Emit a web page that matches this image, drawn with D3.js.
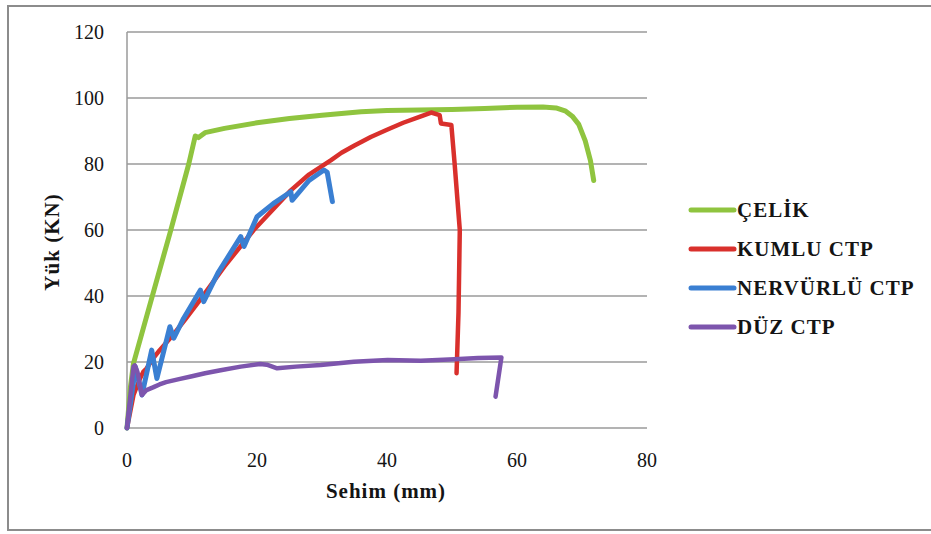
<!DOCTYPE html>
<html>
<head>
<meta charset="utf-8">
<script src="https://cdn.jsdelivr.net/npm/d3@7"></script>
<style>
  html, body { margin: 0; padding: 0; background: #fff; }
  svg { display: block; }
  text { font-family: "Liberation Serif", "Times New Roman", serif; fill: #141414; }
</style>
</head>
<body>
<svg id="chart" width="931" height="534"></svg>
<script>
// ---- data ----
const seriesNames = ["ÇELİK", "KUMLU CTP", "NERVÜRLÜ CTP", "DÜZ CTP"];
const seriesColors = ["#8fc43f", "#d9302c", "#3a7fd2", "#7d55ad"];

const celikX = [0, 0.5, 1, 3.3, 6.6, 9.5, 10.5, 11, 12, 15, 20, 25, 30, 36, 40, 45, 50, 55, 60, 64, 66, 67.5, 68.5, 69.5, 70.5, 71.3, 71.8];
const celikY = [0, 12, 19.6, 35.8, 59, 80, 88.5, 88, 89.5, 90.8, 92.5, 93.8, 94.8, 95.8, 96.2, 96.4, 96.5, 96.8, 97.2, 97.3, 97, 96, 94.5, 92, 87, 81, 75];

const kumluX = [0, 1, 2, 2.5, 3, 4, 5, 7, 9, 11.3, 15, 19.5, 25.2, 28, 31.4, 33, 35, 37.5, 40, 42.5, 45, 46.8, 48.1, 48.3, 49.9, 50.4, 51.2, 51.0, 50.7];
const kumluY = [0, 10, 15, 17, 18, 21, 23.5, 28, 33, 39, 49, 60, 72, 76.8, 81.2, 83.4, 85.6, 88.2, 90.4, 92.5, 94.3, 95.6, 94.8, 92.3, 91.8, 80.2, 60, 35, 16.6];

const nervX = [0, 1, 1.3, 2.3, 3.8, 4.6, 6.6, 7.2, 8.7, 11.3, 11.8, 14, 17.5, 18, 20, 22.5, 25.2, 25.4, 28, 30.3, 30.8, 31.6];
const nervY = [0, 14, 18.5, 10, 23.6, 15, 30.7, 27.2, 33.2, 41.8, 38.3, 47, 58, 55, 64, 68, 71.6, 69, 75, 78.2, 77.5, 68.6];

const duzX = [0, 0.2, 0.5, 1, 1.2, 1.6, 2.3, 3, 4, 5, 6, 8, 10, 12, 14.4, 17.5, 20.5, 21.5, 23.1, 26, 29.8, 34.9, 40.1, 45.2, 50.4, 54, 57.6, 56.7];
const duzY = [0, 4, 9.5, 18.6, 19, 17, 10, 11.5, 12.3, 13.2, 13.9, 14.8, 15.7, 16.6, 17.5, 18.6, 19.4, 19.2, 18.1, 18.6, 19.1, 20.1, 20.6, 20.4, 20.8, 21.2, 21.4, 9.5];

const xTicks = [0, 20, 40, 60, 80];
const yTicks = [0, 20, 40, 60, 80, 100, 120];
const xTitle = "Sehim (mm)";
const yTitle = "Yük (KN)";

// ---- drawing ----
const svg = d3.select("#chart");
const x = d3.scaleLinear().domain([0, 80]).range([127, 647]);
const y = d3.scaleLinear().domain([0, 120]).range([428, 32]);

// outer border
svg.append("rect").attr("x", 8).attr("y", 6).attr("width", 940).attr("height", 524)
  .attr("fill", "none").attr("stroke", "#8c8c8c").attr("stroke-width", 2);

// gridlines
svg.append("g").selectAll("line").data(yTicks).join("line")
  .attr("x1", x(0)).attr("x2", x(80))
  .attr("y1", d => y(d)).attr("y2", d => y(d))
  .attr("stroke", "#9a9a9a").attr("stroke-width", 1.5);

// y axis line
svg.append("line").attr("x1", x(0)).attr("x2", x(0)).attr("y1", y(0)).attr("y2", y(120))
  .attr("stroke", "#9a9a9a").attr("stroke-width", 1.5);

// tick labels
svg.append("g").selectAll("text").data(yTicks).join("text")
  .attr("x", 104).attr("y", d => y(d) + 7)
  .attr("text-anchor", "end").attr("font-size", 20).text(d => d);
svg.append("g").selectAll("text").data(xTicks).join("text")
  .attr("x", d => x(d)).attr("y", 467)
  .attr("text-anchor", "middle").attr("font-size", 20).text(d => d);

// axis titles
svg.append("text").attr("x", 386).attr("y", 498).attr("text-anchor", "middle")
  .attr("font-size", 21).attr("letter-spacing", 1).attr("font-weight", "bold").text(xTitle);
svg.append("text").attr("transform", "translate(59,242) rotate(-90)")
  .attr("text-anchor", "middle").attr("font-size", 21).attr("letter-spacing", 1).attr("font-weight", "bold").text(yTitle);

// series
const seriesData = [
  d3.zip(celikX, celikY),
  d3.zip(kumluX, kumluY),
  d3.zip(nervX, nervY),
  d3.zip(duzX, duzY)
];
const widths = [5, 4.5, 5, 4.5];
const line = d3.line().x(d => x(d[0])).y(d => y(d[1]));
svg.append("g").selectAll("path").data(seriesData).join("path")
  .attr("d", line).attr("fill", "none")
  .attr("stroke", (d, i) => seriesColors[i])
  .attr("stroke-width", (d, i) => widths[i])
  .attr("stroke-linejoin", "round").attr("stroke-linecap", "round");

// legend
const legendY = [210, 249, 288, 327];
const lg = svg.append("g").selectAll("g").data(seriesNames).join("g")
  .attr("transform", (d, i) => `translate(0,${legendY[i]})`);
lg.append("line").attr("x1", 691).attr("x2", 734).attr("y1", 0).attr("y2", 0)
  .attr("stroke", (d, i) => seriesColors[i]).attr("stroke-width", 5).attr("stroke-linecap", "round");
lg.append("text").attr("x", 737).attr("y", 7).attr("font-size", 21).attr("letter-spacing", 1)
  .attr("font-weight", "bold").text(d => d);
</script>
</body>
</html>
